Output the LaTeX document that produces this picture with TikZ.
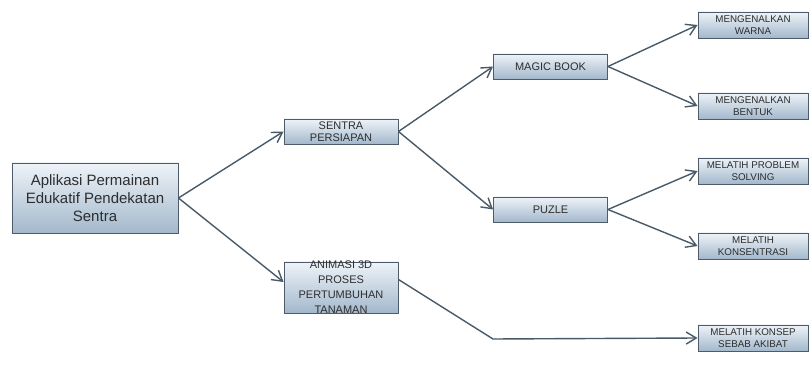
\documentclass[tikz,border=0pt]{standalone}
\usepackage{fontspec}
\setmainfont{Liberation Sans}
\usetikzlibrary{arrows.meta}

\definecolor{boxtop}{RGB}{238,243,248}
\definecolor{boxbot}{RGB}{163,184,204}
\definecolor{boxline}{RGB}{78,92,106}
\definecolor{linkcol}{RGB}{72,90,104}
\definecolor{txtcol}{RGB}{45,45,45}

\begin{document}
\begin{tikzpicture}[x=1pt, y=-1pt,
    box/.style={rectangle, draw=boxline, line width=0.9pt, top color=boxtop, bottom color=boxbot, align=center, inner sep=0pt, text=txtcol},
    mainbox/.style={box, minimum width=166pt, minimum height=70pt, font=\fontsize{15}{18}\selectfont},
    midbox/.style={box, minimum width=114pt, minimum height=25pt, font=\fontsize{11}{12.5}\selectfont},
    leafbox/.style={box, minimum width=110pt, minimum height=26pt, font=\fontsize{9.8}{12.5}\selectfont},
    link/.style={draw=linkcol, line width=1.4pt, -{Straight Barb[length=10pt,width=12pt]}}]
    \useasboundingbox (0,0) rectangle (809,371);
    % Nodes
    \node (main) [mainbox] at (95,198) {Aplikasi Permainan\\Edukatif Pendekatan\\Sentra};
    \node (sentra) [midbox] at (341,131.5) {SENTRA\\PERSIAPAN};
    \node (animasi) [midbox, minimum height=51pt] at (341,287.5) {};
    \node (animasitxt) [align=center, text=txtcol, font=\fontsize{11}{15}\selectfont] at (animasi) {ANIMASI 3D\\PROSES\\PERTUMBUHAN\\TANAMAN};
    \node (magic) [midbox] at (550.5,66.5) {MAGIC BOOK};
    \node (puzle) [midbox] at (550.5,209.5) {PUZLE};
    \node (warna) [leafbox] at (753,25) {MENGENALKAN\\WARNA};
    \node (bentuk) [leafbox] at (753,106) {MENGENALKAN\\BENTUK};
    \node (problem) [leafbox] at (753,171) {MELATIH PROBLEM\\SOLVING};
    \node (konsentrasi) [leafbox] at (753,246) {MELATIH\\KONSENTRASI};
    \node (konsep) [leafbox] at (753,338) {MELATIH KONSEP\\SEBAB AKIBAT};
    \coordinate (bend) at (493,339);
    % Arrows
    \draw[link] (main.east) -- (sentra.west);
    \draw[link] (main.east) -- ([yshift=5.5pt]animasi.west);
    \draw[link] (sentra.east) -- (magic.west);
    \draw[link] (sentra.east) -- (puzle.west);
    \draw[link] (magic.east) -- (warna.west);
    \draw[link] (magic.east) -- (bentuk.west);
    \draw[link] (puzle.east) -- (problem.west);
    \draw[link] (puzle.east) -- (konsentrasi.west);
    \draw[link] ([yshift=8pt]animasi.east) -- (bend) -- (konsep.west);
\end{tikzpicture}
\end{document}
